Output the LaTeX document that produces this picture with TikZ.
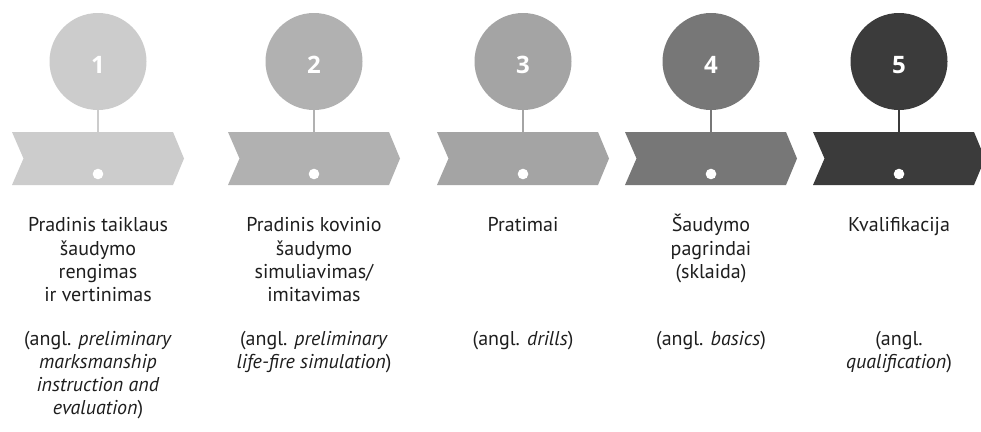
\documentclass[tikz,border=0pt]{standalone}
\usepackage{fontspec}
\setmainfont{PT Sans}
\newfontfamily\numfont{Open Sans}
\definecolor{gA}{HTML}{CCCCCC}
\definecolor{gB}{HTML}{B1B1B1}
\definecolor{gC}{HTML}{A4A4A4}
\definecolor{gD}{HTML}{777777}
\definecolor{gE}{HTML}{3B3B3B}
\definecolor{ink}{HTML}{1E1E1E}
\newcommand\stacklines[1]{\begin{tabular}[t]{@{}c@{}}#1\end{tabular}}
\begin{document}
\begin{tikzpicture}[x=1pt,y=-1pt,
  bubble/.style={circle,inner sep=0pt,minimum size=97pt},
  numtxt/.style={text=white,font=\numfont\bfseries\fontsize{24}{28}\selectfont,inner sep=0pt},
  stem/.style={line width=2pt},
  hole/.style={fill=white},
  label/.style={anchor=base,inner sep=0pt,text=ink,font=\fontsize{20}{23.3}\selectfont}]
\useasboundingbox (0,0) rectangle (981,431);
\fill[white] (0,0) rectangle (981,431);
\foreach \i/\L/\c/\n in {1/12/gA/1,2/228/gB/2,3/437/gC/3,4/625/gD/4,5/813/gE/5}{
  \pgfmathsetmacro\cx{\L+86}
  \fill[\c] (\L,132) -- ({\L+161},132) -- ({\L+172},158.5) -- ({\L+161},185) -- (\L,185) -- ({\L+11.5},158.5) -- cycle;
  \coordinate (t\i) at (\cx,132);
  \node[bubble,fill=\c] (c\i) at (\cx,61.5) {};
  \node[numtxt] (n\i) at (\cx,65) {\n};
  \draw[stem,\c] (c\i.south) -- (t\i);
  \fill[hole] (\cx,174) circle (5.3);
}
\node[label] (a1) at (98,231.7) {\stacklines{Pradinis taiklaus\\ šaudymo\\ rengimas\\ ir vertinimas}};
\node[label] (b1) at (98,345) {\stacklines{(angl. \textit{preliminary}\\ \textit{marksmanship}\\ \textit{instruction and}\\ \textit{evaluation})}};
\node[label] (a2) at (314,231.7) {\stacklines{Pradinis kovinio\\ šaudymo\\ simuliavimas/\\ imitavimas}};
\node[label] (b2) at (314,345) {\stacklines{(angl. \textit{preliminary}\\ \textit{life-fire simulation})}};
\node[label] (a3) at (523,231.7) {\stacklines{Pratimai}};
\node[label] (b3) at (523,345) {\stacklines{(angl. \textit{drills})}};
\node[label] (a4) at (711,231.7) {\stacklines{Šaudymo\\ pagrindai\\ (sklaida)}};
\node[label] (b4) at (711,345) {\stacklines{(angl. \textit{basics})}};
\node[label] (a5) at (899,231.7) {\stacklines{Kvalifikacija}};
\node[label] (b5) at (899,345) {\stacklines{(angl.\\ \textit{qualification})}};
\end{tikzpicture}
\end{document}
